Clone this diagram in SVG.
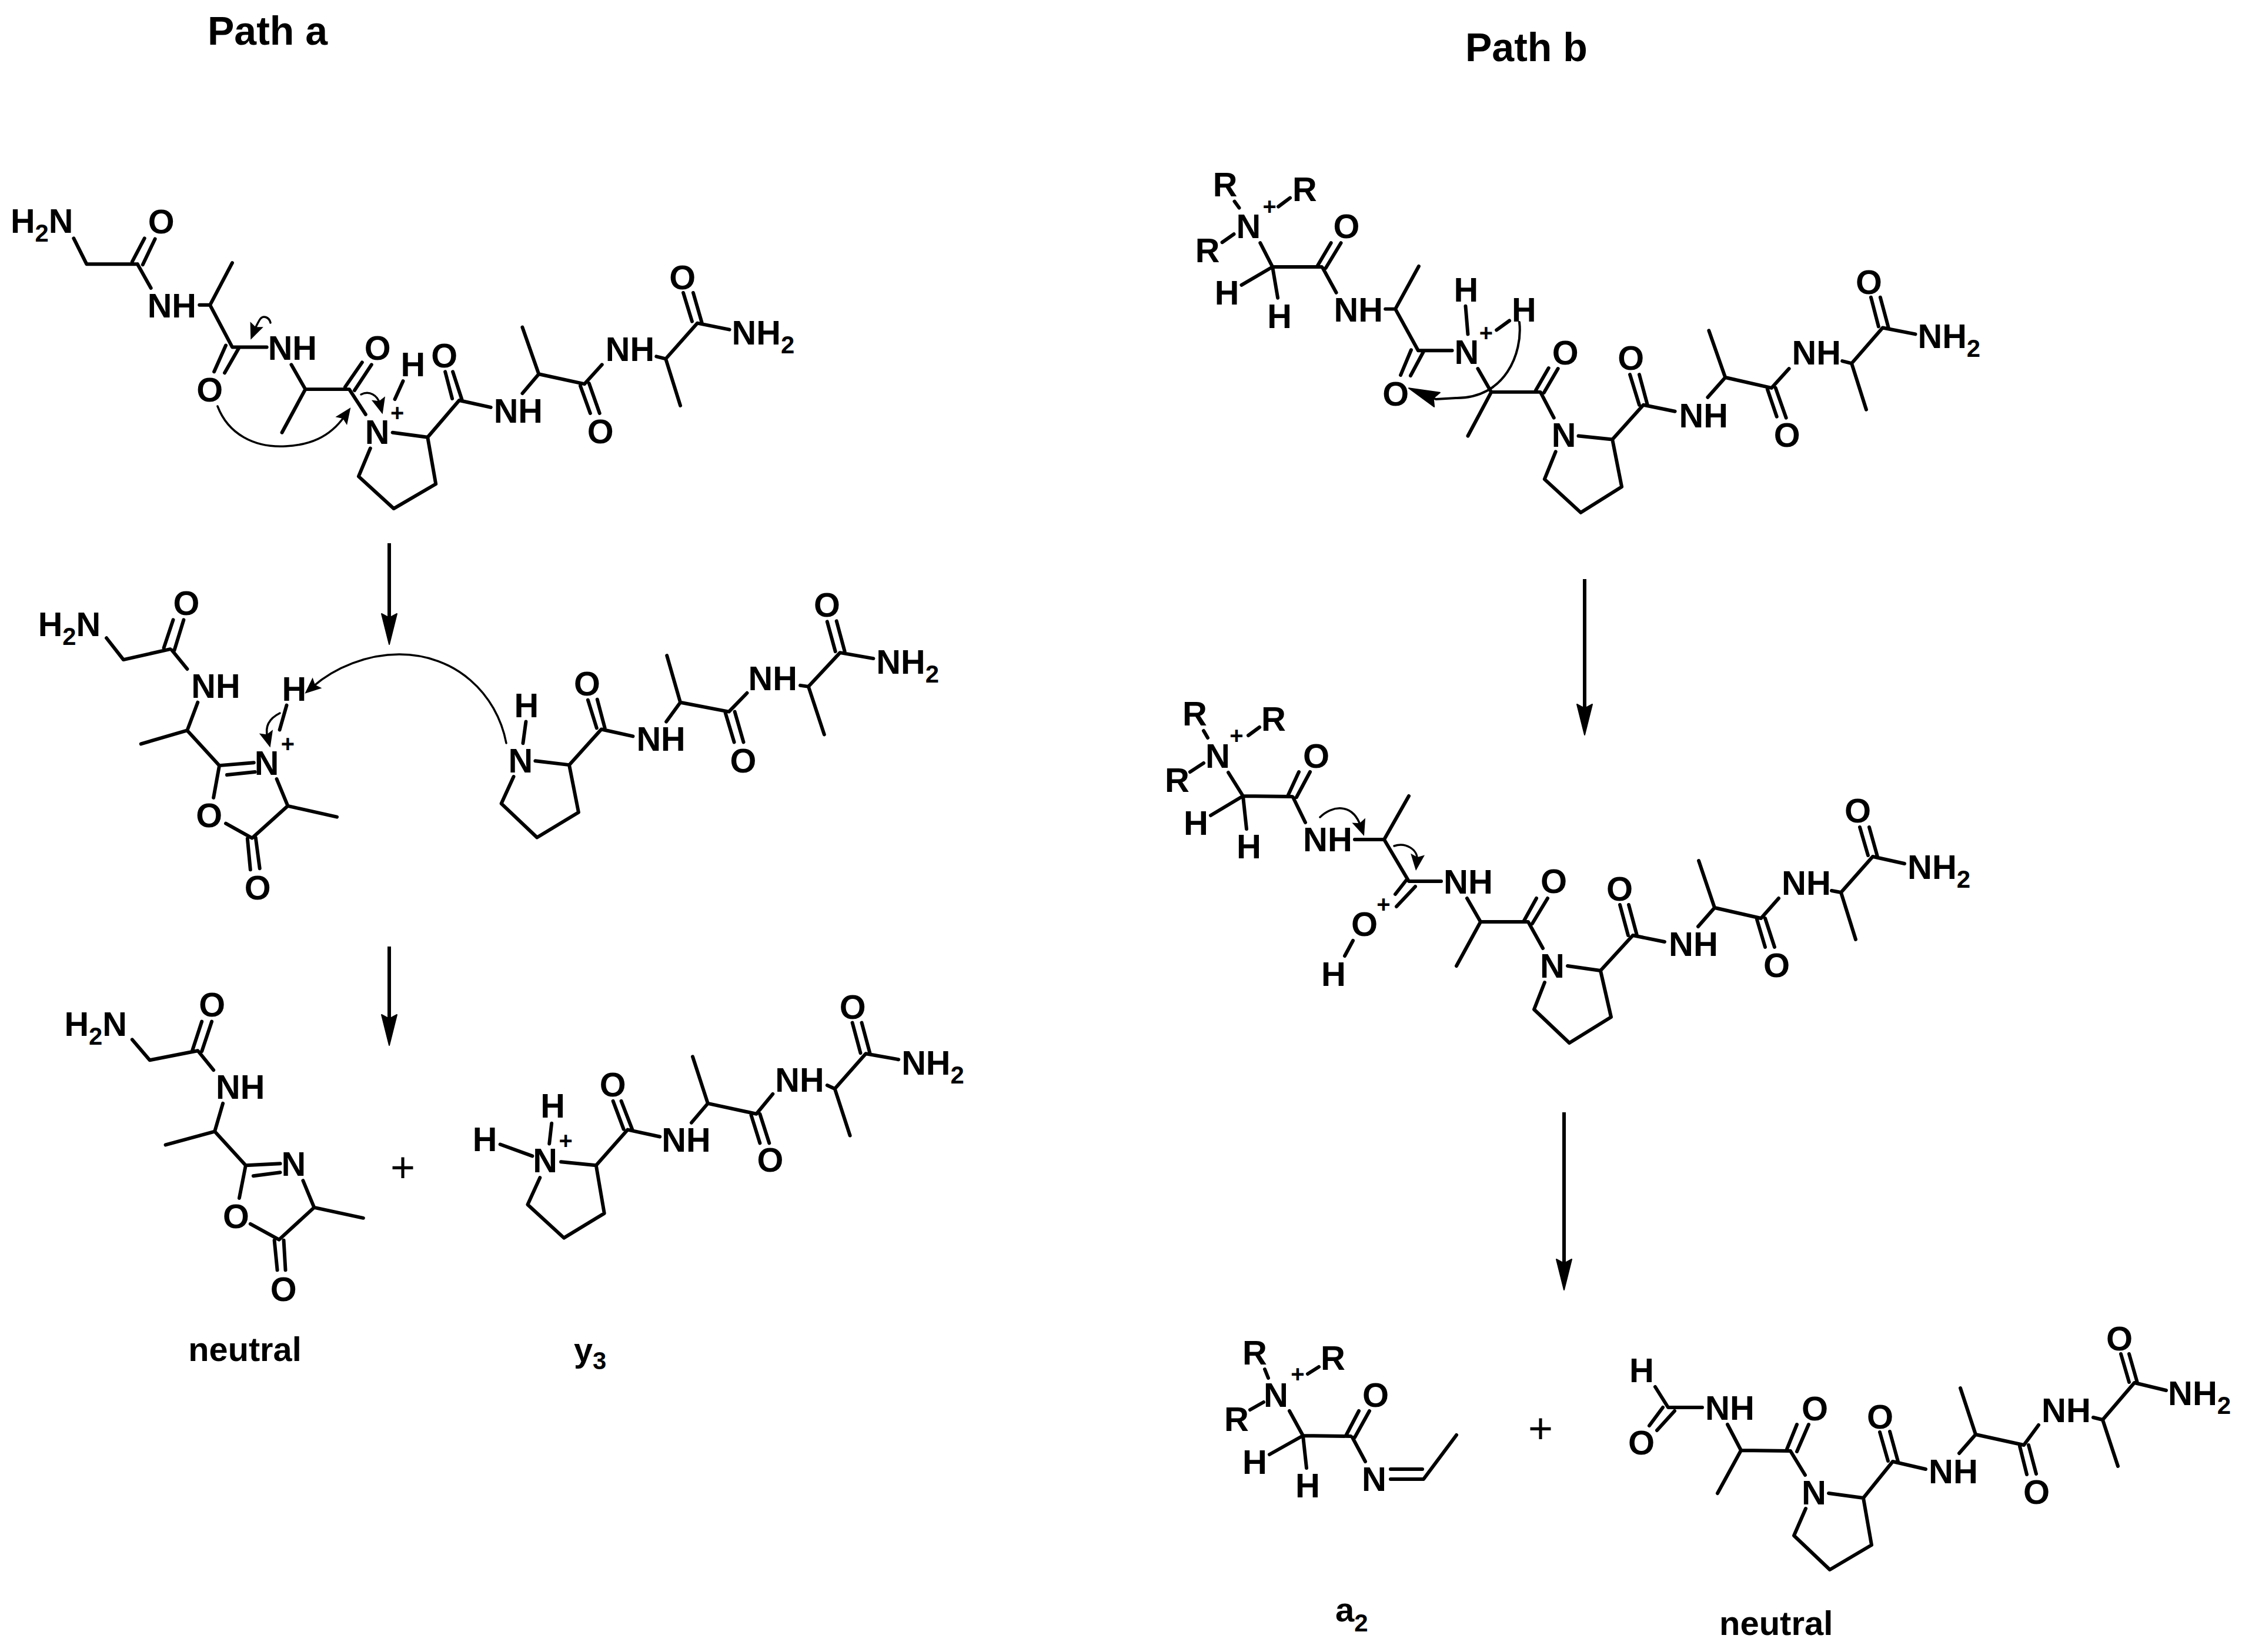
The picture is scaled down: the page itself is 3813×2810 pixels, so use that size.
<svg xmlns="http://www.w3.org/2000/svg" width="3813" height="2810" viewBox="0 0 3813 2810">
<style>
text{font-family:"Liberation Sans",Arial,sans-serif;font-weight:700;font-size:58px;fill:#000}
.title{font-size:68px}
.cap{font-size:58px}
.ch{font-size:40px;text-anchor:middle}
.plus{font-size:72px;font-weight:400;text-anchor:middle}
.s{font-size:42px}
.b{fill:none;stroke:#000;stroke-width:6;stroke-linecap:round;stroke-linejoin:round}
.r{fill:none;stroke:#000;stroke-width:6;marker-end:url(#head)}
.c{fill:none;stroke:#000;stroke-width:3.5;stroke-linecap:round;marker-end:url(#chead)}
.cb{fill:none;stroke:#000;stroke-width:4;stroke-linecap:round;stroke-linejoin:round;marker-end:url(#head)}
</style>
<defs>
<marker id="head" markerUnits="userSpaceOnUse" markerWidth="60" markerHeight="34" refX="30" refY="17" orient="auto" overflow="visible"><path d="M4,4 L11,17 L4,30 L56,17 Z" fill="#000" stroke="#000" stroke-width="2" stroke-linejoin="round"/></marker>
<marker id="chead" markerUnits="userSpaceOnUse" markerWidth="34" markerHeight="30" refX="12" refY="15" orient="auto" overflow="visible"><path d="M2,3 L7,15 L2,27 L30,15 Z" fill="#000"/></marker>
</defs>
<rect width="3813" height="2810" fill="#fff"/>
<g id="titles">
<text class="title" x="353" y="76">Path a</text>
<text class="title" x="2492" y="104">Path b</text>
</g>

<g id="a-precursor" transform="translate(0,1.5) scale(.9949)">
<path class="b" d="M126,406L148,450L235,450M226,446L247,406M244,451L265,407M235,450L258,491M341,520L359,520L397,448M359,520L397,592L456,592M386,589L366,634M408,594L384,636M498,622L522,664L482,738M522,664L597,664L625,707M590,660L619,618M606,666L635,622M689,650L675,681M671,738L731,746L745,826L673,868L613,813L633,765M731,746L785,683L839,695M773,680L761,634M790,683L774,634M893,671L921,638L893,558M921,638L999,655L1029,622M992,658L1009,705M1007,654L1025,705M1122,608L1138,612L1163,692M1138,612L1192,551L1247,562M1183,548L1168,499M1200,551L1185,499"/>
<text x="18" y="397">H<tspan class="s" dy="15">2</tspan><tspan dy="-15">N</tspan></text>
<text x="253" y="398">O</text><text x="252" y="541">NH</text><text x="458" y="614">NH</text><text x="336" y="685">O</text><text x="623" y="614">O</text><text x="685" y="642">H</text><text class="ch" x="679" y="718">+</text><text x="624" y="757">N</text><text x="737" y="627">O</text><text x="844" y="721">NH</text><text x="1004" y="756">O</text><text x="1035" y="616">NH</text><text x="1144" y="493">O</text>
<text x="1251" y="588">NH<tspan class="s" dy="15">2</tspan></text>
</g>

<g id="a-oxazolone-ion" transform="translate(0,4.8) scale(.9949)">
<path class="b" d="M182,1086L211,1123L291,1105M280,1103L296,1055M298,1107L314,1055M294,1107L320,1139M338,1196L320,1244L241,1267M320,1244L375,1304L434,1299M388,1320L436,1315M375,1304L365,1359M473,1327L492,1373L576,1392M492,1373L431,1428L386,1403M423,1429L428,1482M437,1427L444,1480M490,1201L478,1243"/>
<text x="65" y="1083">H<tspan class="s" dy="15">2</tspan><tspan dy="-15">N</tspan></text>
<text x="296" y="1047">O</text><text x="327" y="1188">NH</text><text x="482" y="1193">H</text><text x="435" y="1320">N</text><text class="ch" x="492" y="1281">+</text><text x="335" y="1409">O</text><text x="418" y="1533">O</text>
</g>

<g id="a-fragment" transform="translate(0,4.8) scale(.9949)">
<path class="b" d="M899,1229L894,1266M915,1296L973,1303L989,1384L918,1427L857,1369L878,1323M973,1303L1028,1242L1082,1254M1020,1240L1005,1192M1034,1240L1021,1191M1139,1229L1163,1196L1140,1116M1163,1196L1246,1212L1277,1180M1240,1214L1255,1264M1256,1212L1271,1264M1368,1167L1382,1169L1409,1251M1382,1169L1436,1111L1493,1121M1428,1109L1414,1058M1444,1109L1430,1057"/>
<text x="879" y="1221">H</text><text x="869" y="1316">N</text><text x="981" y="1184">O</text><text x="1088" y="1279">NH</text><text x="1248" y="1316">O</text><text x="1279" y="1175">NH</text><text x="1391" y="1050">O</text>
<text x="1498" y="1147">NH<tspan class="s" dy="15">2</tspan></text>
</g>

<g id="a-neutral" transform="translate(0,8.4) scale(.9949)">
<path class="b" d="M226,1769L256,1804L338,1788M329,1787L345,1738M345,1789L362,1738M340,1790L365,1821M381,1878L367,1926L283,1949M367,1926L420,1984L479,1981M433,2002L479,1996M420,1984L409,2040M518,2010L537,2056L621,2074M537,2056L477,2111L428,2084M469,2112L474,2163M485,2112L488,2163"/>
<text x="110" y="1763">H<tspan class="s" dy="15">2</tspan><tspan dy="-15">N</tspan></text>
<text x="340" y="1729">O</text><text x="369" y="1870">NH</text><text x="481" y="2002">N</text><text x="381" y="2091">O</text><text x="462" y="2216">O</text>
<text class="cap" x="322" y="2318">neutral</text>
</g>

<text id="a-plus" class="plus" x="685" y="2010">+</text>

<g id="a-y3" transform="translate(0,8.4) scale(.9949)">
<path class="b" d="M943,1912L939,1947M855,1948L910,1968M959,1978L1019,1984L1033,2066L964,2108L902,2051L923,2005M1019,1984L1073,1923L1128,1935M1066,1922L1048,1874M1081,1923L1062,1874M1182,1911L1210,1878L1184,1798M1210,1878L1293,1896L1321,1862M1284,1898L1299,1946M1299,1896L1315,1946M1414,1847L1427,1853L1453,1933M1427,1853L1480,1793L1536,1803M1471,1792L1457,1740M1487,1792L1473,1740"/>
<text x="924" y="1902">H</text><text x="808" y="1960">H</text><text class="ch" x="967" y="1956">+</text><text x="911" y="1996">N</text><text x="1025" y="1866">O</text><text x="1131" y="1961">NH</text><text x="1294" y="1995">O</text><text x="1325" y="1858">NH</text><text x="1435" y="1733">O</text>
<text x="1541" y="1829">NH<tspan class="s" dy="15">2</tspan></text>
<text class="cap" x="981" y="2319">y<tspan class="s" dy="14">3</tspan></text>
</g>

<g id="b-precursor" transform="translate(10.2,1.3) scale(.9949)">
<path class="b" d="M2100,343L2108,354M2175,352L2195,337M2079,413L2099,399M2144,414L2165,455L2249,455M2165,455L2112,486M2165,455L2174,508M2242,453L2265,414M2256,457L2282,414M2251,457L2274,499M2358,527L2375,527L2415,454M2375,527L2414,598L2472,598M2402,597L2384,640M2423,600L2401,641M2495,522L2499,570M2548,563L2570,547M2516,629L2539,669L2499,744M2539,669L2623,669L2646,713M2615,666L2637,628M2629,670L2653,629M2688,744L2746,750L2762,831L2692,875L2630,818L2649,771M2746,750L2799,691L2853,702M2792,691L2776,639M2806,691L2792,639M2909,678L2939,644L2911,564M2939,644L3018,662L3048,629M3011,664L3027,711M3025,662L3043,713M3139,616L3155,620L3180,699M3155,620L3208,559L3264,570M3201,557L3188,507M3218,559L3204,507"/>
<text x="2063" y="334">R</text><text x="2199" y="342">R</text><text x="2033" y="447">R</text><text x="2103" y="406">N</text><text class="ch" x="2160" y="366">+</text><text x="2066" y="519">H</text><text x="2156" y="560">H</text><text x="2269" y="406">O</text><text x="2270" y="549">NH</text><text x="2353" y="692">O</text><text x="2476" y="621">N</text><text x="2475" y="514">H</text><text x="2574" y="549">H</text><text class="ch" x="2530" y="582">+</text><text x="2643" y="622">O</text><text x="2642" y="763">N</text><text x="2755" y="631">O</text><text x="2860" y="729">NH</text><text x="3022" y="763">O</text><text x="3053" y="622">NH</text><text x="3162" y="501">O</text>
<text x="3268" y="594">NH<tspan class="s" dy="15">2</tspan></text>
</g>

<g id="b-intermediate">
<path class="b" d="M2047,1243L2054,1255M2123,1251L2142,1237M2024,1313L2047,1298M2089,1314L2114,1354L2197,1355M2114,1354L2059,1387M2114,1354L2120,1410M2191,1352L2209,1313M2205,1356L2228,1313M2199,1356L2220,1399M2304,1428L2354,1428L2396,1354M2354,1428L2396,1499L2451,1499M2391,1498L2373,1521M2407,1508L2375,1542M2301,1600L2287,1626M2495,1528L2518,1568L2477,1643M2518,1568L2599,1568L2624,1613M2592,1566L2613,1528M2606,1571L2632,1528M2666,1643L2722,1651L2740,1730L2669,1774L2609,1717L2627,1671M2722,1651L2777,1591L2831,1602M2769,1591L2755,1539M2784,1591L2770,1539M2888,1576L2916,1544L2889,1464M2916,1544L2995,1562L3025,1528M2988,1564L3002,1611M3002,1562L3018,1611M3115,1515L3131,1518L3156,1598M3131,1518L3185,1457L3239,1469M3177,1455L3163,1407M3193,1457L3179,1407"/>
<text x="2011" y="1234">R</text><text x="2145" y="1243">R</text><text x="1981" y="1347">R</text><text x="2050" y="1306">N</text><text class="ch" x="2103" y="1265">+</text><text x="2013" y="1420">H</text><text x="2103" y="1460">H</text><text x="2216" y="1306">O</text><text x="2216" y="1448">NH</text><text x="2455" y="1520">NH</text><text class="ch" x="2353" y="1552">+</text><text x="2298" y="1592">O</text><text x="2247" y="1677">H</text><text x="2620" y="1519">O</text><text x="2619" y="1663">N</text><text x="2732" y="1532">O</text><text x="2838" y="1626">NH</text><text x="2999" y="1662">O</text><text x="3030" y="1522">NH</text><text x="3137" y="1399">O</text>
<text x="3244" y="1495">NH<tspan class="s" dy="15">2</tspan></text>
</g>

<g id="b-a2">
<path class="b" d="M2151,2329L2157,2344M2224,2337L2243,2325M2126,2398L2149,2385M2193,2400L2216,2442L2297,2443M2216,2442L2159,2474M2216,2442L2222,2497M2289,2442L2311,2400M2304,2445L2329,2400M2300,2445L2322,2486M2365,2499L2419,2499M2365,2516L2421,2516L2477,2441"/>
<text x="2113" y="2321">R</text><text x="2246" y="2330">R</text><text x="2082" y="2434">R</text><text x="2149" y="2393">N</text><text class="ch" x="2207" y="2351">+</text><text x="2113" y="2507">H</text><text x="2203" y="2547">H</text><text x="2317" y="2393">O</text><text x="2316" y="2536">N</text>
<text class="cap" x="2271" y="2758">a<tspan class="s" dy="17">2</tspan></text>
</g>

<text id="b-plus" class="plus" x="2620" y="2454">+</text>

<g id="b-neutral">
<path class="b" d="M2815,2359L2837,2394L2895,2394M2828,2394L2805,2425M2848,2400L2818,2433M2938,2423L2961,2467L2921,2540M2961,2467L3045,2468L3070,2509M3039,2465L3056,2423M3056,2469L3076,2423M3110,2540L3169,2548L3183,2628L3112,2670L3051,2612L3071,2566M3169,2548L3219,2486L3275,2499M3211,2485L3197,2436M3228,2486L3214,2435M3332,2472L3360,2440L3334,2361M3360,2440L3442,2458L3467,2424M3435,2460L3447,2508M3450,2458L3463,2507M3560,2411L3576,2415L3602,2494M3576,2415L3630,2352L3684,2365M3621,2351L3607,2303M3635,2352L3621,2303"/>
<text x="2771" y="2351">H</text><text x="2900" y="2415">NH</text><text x="2769" y="2474">O</text><text x="3064" y="2416">O</text><text x="3064" y="2559">N</text><text x="3175" y="2430">O</text><text x="3280" y="2523">NH</text><text x="3441" y="2558">O</text><text x="3472" y="2419">NH</text><text x="3582" y="2297">O</text>
<text x="3687" y="2390">NH<tspan class="s" dy="15">2</tspan></text>
<text class="cap" x="2924" y="2781">neutral</text>
</g>

<g id="connectors">
<path class="r" d="M662,924L662,1070"/>
<path class="r" d="M662,1610L662,1752"/>
<path class="r" d="M2695,985L2695,1224"/>
<path class="r" d="M2660,1892L2660,2168"/>
<path class="c" d="M370,691C388,738 432,762 486,759C525,757 560,745 586,708"/>
<path class="c" d="M460,549C458,540 447,534 441,545C437,552 435,556 433,561"/>
<path class="c" d="M614,671C628,664 642,672 646,687"/>
<path class="c" d="M861,1264C845,1180 775,1113 679,1113C625,1113 570,1135 532,1168"/>
<path class="c" d="M476,1213C458,1222 450,1235 455,1254"/>
<path class="cb" d="M2584,548C2590,600 2560,678 2476,677L2442,679L2420,670"/>
<path class="c" d="M2245,1390C2265,1370 2300,1365 2314,1405"/>
<path class="c" d="M2371,1439C2390,1432 2412,1445 2410,1463"/>
</g>
</svg>
